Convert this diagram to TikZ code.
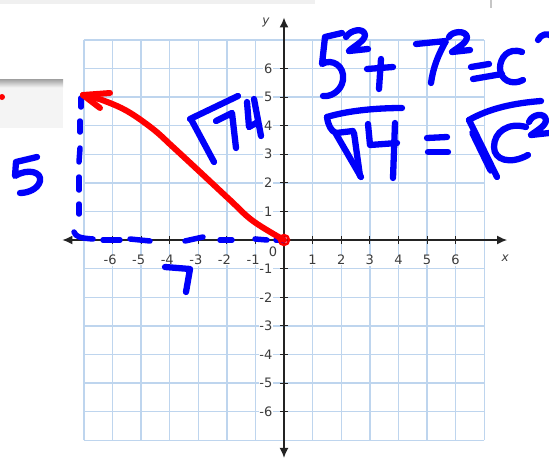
\documentclass[tikz,border=0pt]{standalone}
\usepackage{fontspec}
\newfontfamily\tickfont{DejaVu Sans}
\usetikzlibrary{arrows.meta}
\definecolor{gridblue}{RGB}{190,213,238}
\definecolor{ink}{RGB}{0,0,250}
\definecolor{redink}{RGB}{255,0,0}
\definecolor{axisgray}{RGB}{35,35,35}
\definecolor{lblgray}{RGB}{60,60,60}
\tikzset{
  hand/.style={draw=ink, line width=6.3pt, line cap=round, line join=round},
  bluedash/.style={draw=ink, line width=5.5pt, line cap=round, line join=round},
  redpen/.style={draw=redink, line width=6pt, line cap=round, line join=round},
  gridline/.style={draw=gridblue, line width=1.4pt},
  axisline/.style={draw=axisgray, line width=1.5pt},
  tickline/.style={draw=axisgray, line width=1pt},
  lbl/.style={font=\tickfont\fontsize{13}{15}\selectfont, text=lblgray, fill=white, inner sep=0.6pt},
  axlbl/.style={font=\tickfont\itshape\fontsize{12}{14}\selectfont, text=lblgray, inner sep=0pt}
}
\begin{document}
\begin{tikzpicture}[x=1pt,y=-1pt]
\useasboundingbox (0,0) rectangle (549,461);
\fill[white] (0,0) rectangle (549,461);
% faint page remnants
\fill[gray!12] (0,0) rectangle (315,4);
\draw[gray!45, line width=1.2pt] (491,0) -- (491,8);
% grey box at left
\fill[gray!9] (0,79) rectangle (63,128);
\shade[top color=gray!75, bottom color=gray!12] (0,79) rectangle (63,87);
\fill[redink] (2,97) circle (3);

% coordinate grid
\begin{scope}[shift={(284,240)}, x=28.6pt, y=28.6pt]
  \foreach \i in {-7,...,7} {
    \draw[gridline] (\i,-7) -- (\i,7);
    \draw[gridline] (-7,\i) -- (7,\i);
  }
  \draw[axisline, {Latex[length=10pt,width=9pt]}-{Latex[length=10pt,width=9pt]}] (-7.75,0) -- (7.8,0);
  \draw[axisline, {Latex[length=10pt,width=9pt]}-{Latex[length=10pt,width=9pt]}] (0,-7.62) -- (0,7.78);
  \foreach \i in {1,...,6} {
    \draw[tickline] (\i,-0.13) -- (\i,0.13);
    \draw[tickline] (-\i,-0.13) -- (-\i,0.13);
    \draw[tickline] (-0.13,\i) -- (0.13,\i);
    \draw[tickline] (-0.13,-\i) -- (0.13,-\i);
    \node[lbl] (xp\i) at (\i,-0.7) {\i};
    \node[lbl] (xn\i) at (-\i,-0.7) {\llap{-}\i};
    \node[lbl, anchor=east] (yp\i) at (-0.38,\i) {\i};
    \node[lbl, anchor=east] (yn\i) at (-0.38,-\i) {-\i};
  }
  \node[lbl] (zero) at (-0.38,-0.42) {0};
  \node[axlbl] (ylab) at (-0.63,7.62) {y};
  \node[axlbl] (xlab) at (7.73,-0.63) {x};
\end{scope}

\coordinate (O) at (284,240);
\coordinate (P) at (83,95);

% blue dashed legs
\draw[bluedash] (74,232) .. controls (76,237) and (80,238) .. (93,239);
\draw[bluedash] (103,240) -- (120,240);
\draw[bluedash] (130,239) -- (150,241);
\draw[bluedash] (185,241) -- (203,237);
\draw[bluedash] (220,240) -- (232,240);
\draw[bluedash] (255,239) -- (267,240);
\draw[bluedash] (276,240) -- (O);
\draw[bluedash] (81,98) -- (81,107);
\draw[bluedash] (80,121) -- (80,132);
\draw[bluedash] (80,148) -- (79,162);
\draw[bluedash] (79,177) -- (79,190);
\draw[bluedash] (79,204) -- (79,214);

% red hypotenuse arrow
\draw[redpen] plot[smooth, tension=0.6] coordinates {(284,240) (253,221) (230,200) (200,172) (173,147) (153,129) (127,111) (102,100) (83,95)};
\draw[redpen] (P) -- (110,93);
\draw[redpen] (P) -- (100,108);
\draw[draw=redink, line width=2.5pt] (O) circle (5);

% handwritten 5 and 7
\draw[hand] (37,157) -- (16,162) -- (15,176) .. controls (28,168) and (42,172) .. (40,181) .. controls (38,189) and (28,193) .. (20,193);
\draw[hand] (165,267) -- (190,269) -- (186,292);

% sqrt 74 along the arrow
\draw[hand] (190,119) -- (238,96);
\draw[hand] (192,121) -- (214,162);
\draw[hand] (216,121) -- (232,113) -- (236,148);
\draw[hand] (247,102) -- (249,127) -- (258,122);
\draw[hand] (254,99) -- (261,136);

% 5^2 + 7^2 = c^2
\draw[hand] (342,33) -- (325,37) -- (322,64) .. controls (332,58) and (345,66) .. (343,80) .. controls (341,92) and (330,97) .. (323,96);
\draw[hand] (346,37) .. controls (350,30) and (364,27) .. (365,35) .. controls (365,41) and (354,46) .. (349,51) -- (368,49);
\draw[hand] (367,69) -- (393,67);
\draw[hand] (381,59) -- (379,89);
\draw[hand] (416,44) -- (446,41) .. controls (438,55) and (433,68) .. (431,83);
\draw[hand] (449,37) .. controls (452,31) and (466,30) .. (467,37) .. controls (467,43) and (457,48) .. (452,52) -- (470,50);
\draw[hand] (471,67) -- (489,64);
\draw[hand] (473,79) -- (502,74);
\draw[hand] (522,52) .. controls (508,47) and (500,58) .. (500,68) .. controls (500,80) and (512,86) .. (523,80);
\draw[hand] (538,40) .. controls (541,34) and (547,33) .. (552,36);

% sqrt 4 = sqrt c^2
\draw[hand] (327,117) .. controls (350,110) and (380,108) .. (402,108);
\draw[hand] (327,117) .. controls (328,125) and (331,131) .. (336,133) -- (353,131);
\draw[hand] (336,134) -- (361,177);
\draw[hand] (354,133) -- (360,176);
\draw[hand] (368,124) -- (370,145) -- (397,143);
\draw[hand] (395,123) -- (393,178);
\draw[hand] (427,138) -- (447,137);
\draw[hand] (428,152) -- (448,152);
\draw[hand] (469,120) .. controls (490,108) and (515,103) .. (541,101);
\draw[hand] (469,120) -- (497,177);
\draw[hand, line width=7.5pt] (473,133) -- (491,170);
\draw[hand] (526,127) .. controls (508,122) and (494,132) .. (494,147) .. controls (494,160) and (510,165) .. (528,155);
\draw[hand] (529,122) .. controls (532,114) and (545,112) .. (546,120) .. controls (546,126) and (536,131) .. (531,135) -- (549,133);
\end{tikzpicture}
\end{document}
